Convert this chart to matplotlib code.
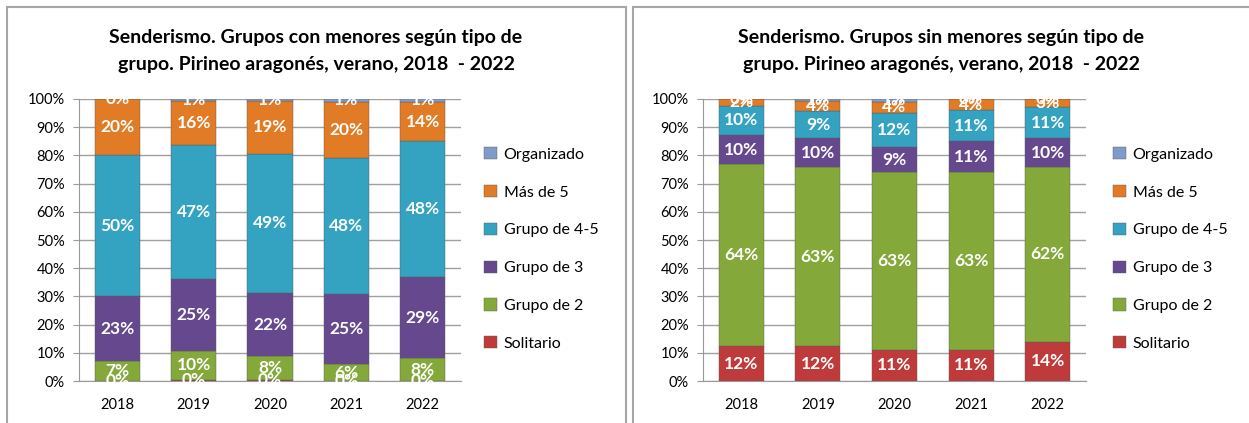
import matplotlib
matplotlib.use("Agg")
import matplotlib.pyplot as plt
from matplotlib.patches import Rectangle
import numpy as np

plt.rcParams['font.family'] = ['Lato', 'DejaVu Sans']

years = ["2018", "2019", "2020", "2021", "2022"]
series = ["Solitario", "Grupo de 2", "Grupo de 3", "Grupo de 4-5", "Más de 5", "Organizado"]
colors = ["#BF3B3B", "#84A93A", "#66488F", "#33A3C1", "#E27B26", "#7F9BC9"]

# Grupos con menores
con_solitario = [0.0, 0.4, 0.4, 0.0, 0.0]
con_grupo2 = [7.0, 10.4, 8.4, 6.0, 8.0]
con_grupo3 = [23.0, 25.4, 22.4, 25.0, 29.0]
con_grupo45 = [50.0, 47.4, 49.4, 48.0, 48.0]
con_mas5 = [20.0, 15.8, 18.8, 20.0, 14.0]
con_organizado = [0.0, 0.6, 0.6, 1.0, 1.0]

# Grupos sin menores
sin_solitario = [12.4, 12.4, 11.0, 11.0, 14.0]
sin_grupo2 = [64.4, 63.4, 63.0, 63.0, 62.0]
sin_grupo3 = [10.4, 10.4, 9.0, 11.0, 10.0]
sin_grupo45 = [10.4, 9.4, 12.0, 11.0, 11.0]
sin_mas5 = [2.4, 3.6, 4.0, 4.0, 3.0]
sin_organizado = [0.0, 0.8, 1.0, 0.0, 0.0]

title_con = "Senderismo. Grupos con menores según tipo de\ngrupo. Pirineo aragonés, verano, 2018  - 2022"
title_sin = "Senderismo. Grupos sin menores según tipo de\ngrupo. Pirineo aragonés, verano, 2018  - 2022"

W, H = 1249, 423
fig = plt.figure(figsize=(W / 100, H / 100), dpi=100)
fig.patch.set_facecolor("white")

# panel borders
for x0, x1 in [(7, 626), (633, 1252)]:
    fig.add_artist(Rectangle((x0 / W, -0.05), (x1 - x0) / W, (H - 7) / H + 0.05,
                             transform=fig.transFigure, fill=False,
                             edgecolor="#A6A6A6", lw=1.5))


def draw(ax_rect, data, title, title_x, legend_x):
    ax = fig.add_axes(ax_rect)
    x = np.arange(len(years))
    bottom = np.zeros(len(years))
    handles = []
    for name, vals, col in zip(series, data, colors):
        vals = np.array(vals)
        b = ax.bar(x, vals, width=0.59, bottom=bottom, color=col,
                   edgecolor="#5a5a5a", linewidth=0.3, zorder=3, label=name)
        handles.append(b)
        for xi, v, bt in zip(x, vals, bottom):
            ax.text(xi, bt + v / 2, f"{v:.0f}%", ha="center", va="center",
                    color="white", fontsize=12.5, fontweight="bold", zorder=5)
        bottom = bottom + vals
    ax.set_xlim(-0.5, len(years) - 0.5)
    ax.set_ylim(0, 100)
    ax.set_yticks(np.arange(0, 101, 10))
    ax.set_yticklabels([f"{t}%" for t in range(0, 101, 10)], fontsize=10.5)
    ax.set_xticks(x)
    ax.set_xticklabels(years, fontsize=10.5)
    ax.tick_params(axis="x", length=0, pad=12)
    ax.tick_params(axis="y", length=4, color="#999999", pad=6)
    ax.yaxis.grid(True, color="#A0A0A0", lw=1, zorder=0)
    ax.set_axisbelow(True)
    for s in ["top", "right"]:
        ax.spines[s].set_visible(False)
    for s in ["left", "bottom"]:
        ax.spines[s].set_color("#999999")
    fig.text(title_x, 1 - 51 / H, title, ha="center", va="center",
             fontsize=14, fontweight="bold", linespacing=1.75)
    fig.legend(handles[::-1], series[::-1], loc="center left",
               bbox_to_anchor=(legend_x, (423 - 249) / H), frameon=False,
               fontsize=11.5, handlelength=0.8, handleheight=0.8,
               labelspacing=1.45, handletextpad=0.4)
    return ax


data_con = [con_solitario, con_grupo2, con_grupo3, con_grupo45, con_mas5, con_organizado]
data_sin = [sin_solitario, sin_grupo2, sin_grupo3, sin_grupo45, sin_mas5, sin_organizado]

draw([79 / W, 42 / H, 382 / W, 282 / H], data_con, title_con, 316 / W, 470 / W)
draw([703 / W, 42 / H, 383 / W, 282 / H], data_sin, title_sin, 941 / W, 1099 / W)

fig.savefig("out.png", dpi=100)
